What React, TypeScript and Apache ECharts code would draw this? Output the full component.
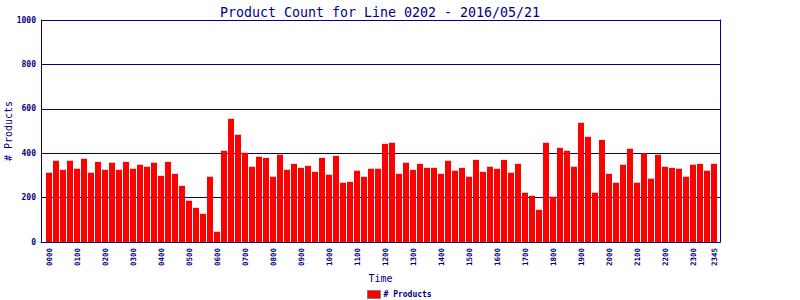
import React, { useEffect, useRef } from "react";
import * as echarts from "echarts";

const TITLE = "Product Count for Line 0202 - 2016/05/21";
const Y_NAME = "# Products";
const X_NAME = "Time";
const SERIES_NAME = "# Products";

const times: string[] = [
  "0000","0015","0030","0045","0100","0115","0130","0145",
  "0200","0215","0230","0245","0300","0315","0330","0345",
  "0400","0415","0430","0445","0500","0515","0530","0545",
  "0600","0615","0630","0645","0700","0715","0730","0745",
  "0800","0815","0830","0845","0900","0915","0930","0945",
  "1000","1015","1030","1045","1100","1115","1130","1145",
  "1200","1215","1230","1245","1300","1315","1330","1345",
  "1400","1415","1430","1445","1500","1515","1530","1545",
  "1600","1615","1630","1645","1700","1715","1730","1745",
  "1800","1815","1830","1845","1900","1915","1930","1945",
  "2000","2015","2030","2045","2100","2115","2130","2145",
  "2200","2215","2230","2245","2300","2315","2330","2345",
];

const productCounts: number[] = [
  312, 366, 325, 366, 330, 375, 312, 361,
  325, 357, 325, 361, 330, 348, 339, 357,
  298, 361, 307, 253, 186, 154, 127, 294,
  46, 411, 555, 483, 402, 339, 384, 379,
  294, 393, 325, 352, 334, 343, 316, 379,
  303, 388, 267, 271, 321, 294, 330, 330,
  442, 447, 307, 357, 325, 352, 334, 334,
  307, 366, 321, 334, 294, 370, 316, 339,
  330, 370, 312, 352, 222, 208, 145, 447,
  204, 424, 411, 339, 537, 474, 222, 460,
  307, 267, 348, 420, 267, 400, 285, 393,
  339, 334, 330, 294, 348, 352, 321, 352,
];

const yTicks = { min: 0, max: 1000, interval: 200 };

const NAVY = "#000080";
const MONO = "'DejaVu Sans Mono', 'Liberation Mono', monospace";

export default function App() {
  const ref = useRef<HTMLDivElement>(null);
  useEffect(() => {
    if (!ref.current) return;
    const chart = echarts.init(ref.current, undefined, { renderer: "svg" });
    const lastIdx = times.length - 1;
    chart.setOption({
      animation: false,
      backgroundColor: "#ffffff",
      title: {
        text: TITLE,
        left: 375,
        textAlign: "center",
        top: 1,
        textStyle: { fontFamily: MONO, fontSize: 13.3, fontWeight: "normal", color: NAVY },
      },
      legend: {
        data: [SERIES_NAME],
        left: 367,
        top: 290,
        itemWidth: 13,
        itemHeight: 8,
        itemGap: 4,
        icon: "rect",
        padding: 0,
        itemStyle: { borderColor: "#808080", borderWidth: 1 },
        textStyle: { fontFamily: MONO, fontSize: 8, fontWeight: "bold", color: NAVY, padding: [0, 0, 0, -2] },
      },
      grid: [
        { left: 41, top: 20, width: 679, height: 222, containLabel: false, outerBoundsMode: "none" },
        { left: 45.5, top: 20, width: 672, height: 222, containLabel: false, outerBoundsMode: "none" },
      ],
      xAxis: [
        {
          type: "value",
          gridIndex: 0,
          min: 0,
          max: 1,
          axisLabel: { show: false },
          axisTick: { show: false },
          splitLine: { show: false },
          axisLine: { show: true, lineStyle: { color: NAVY, width: 1 } },
          name: X_NAME,
          nameLocation: "middle",
          nameGap: 31,
          nameMoveOverlap: false,
          nameTextStyle: { fontFamily: MONO, fontSize: 10, color: NAVY },
        },
        {
          type: "category",
          gridIndex: 1,
          data: times,
          boundaryGap: true,
          axisLine: { show: false },
          axisTick: { show: false },
          axisLabel: {
            interval: (index: number) => index % 4 === 0 || index === lastIdx,
            rotate: 90,
            margin: 6,
            fontFamily: MONO,
            fontSize: 7.5,
            fontWeight: "bold",
            color: NAVY,
          },
        },
      ],
      yAxis: [
        {
          type: "value",
          gridIndex: 0,
          min: yTicks.min,
          max: yTicks.max,
          interval: yTicks.interval,
          axisLine: { show: true, lineStyle: { color: NAVY, width: 1 } },
          axisTick: { show: false },
          axisLabel: {
            margin: 5,
            fontFamily: MONO,
            fontSize: 8,
            fontWeight: "bold",
            color: NAVY,
            formatter: (v: number) => String(v),
          },
          splitLine: { show: true, lineStyle: { color: NAVY, width: 1 } },
          name: Y_NAME,
          nameLocation: "middle",
          nameRotate: 90,
          nameGap: 28,
          nameMoveOverlap: false,
          nameTextStyle: { fontFamily: MONO, fontSize: 10, color: NAVY },
        },
        {
          type: "value",
          gridIndex: 0,
          position: "right",
          min: yTicks.min,
          max: yTicks.max,
          interval: yTicks.interval,
          axisLine: { show: true, lineStyle: { color: NAVY, width: 1 } },
          axisTick: { show: false },
          axisLabel: { show: false },
          splitLine: { show: false },
        },
        {
          type: "value",
          gridIndex: 1,
          min: yTicks.min,
          max: yTicks.max,
          interval: yTicks.interval,
          show: false,
          splitLine: { show: false },
        },
      ],
      series: [
        {
          name: SERIES_NAME,
          type: "bar",
          xAxisIndex: 1,
          yAxisIndex: 2,
          data: productCounts,
          barWidth: 6,
          itemStyle: { color: "#ff0000" },
          z: 3,
        },
      ],
    });
    return () => chart.dispose();
  }, []);
  return (
    <div
      ref={ref}
      style={{ position: "fixed", left: 0, top: 0, width: 800, height: 300, background: "#fff" }}
    />
  );
}
